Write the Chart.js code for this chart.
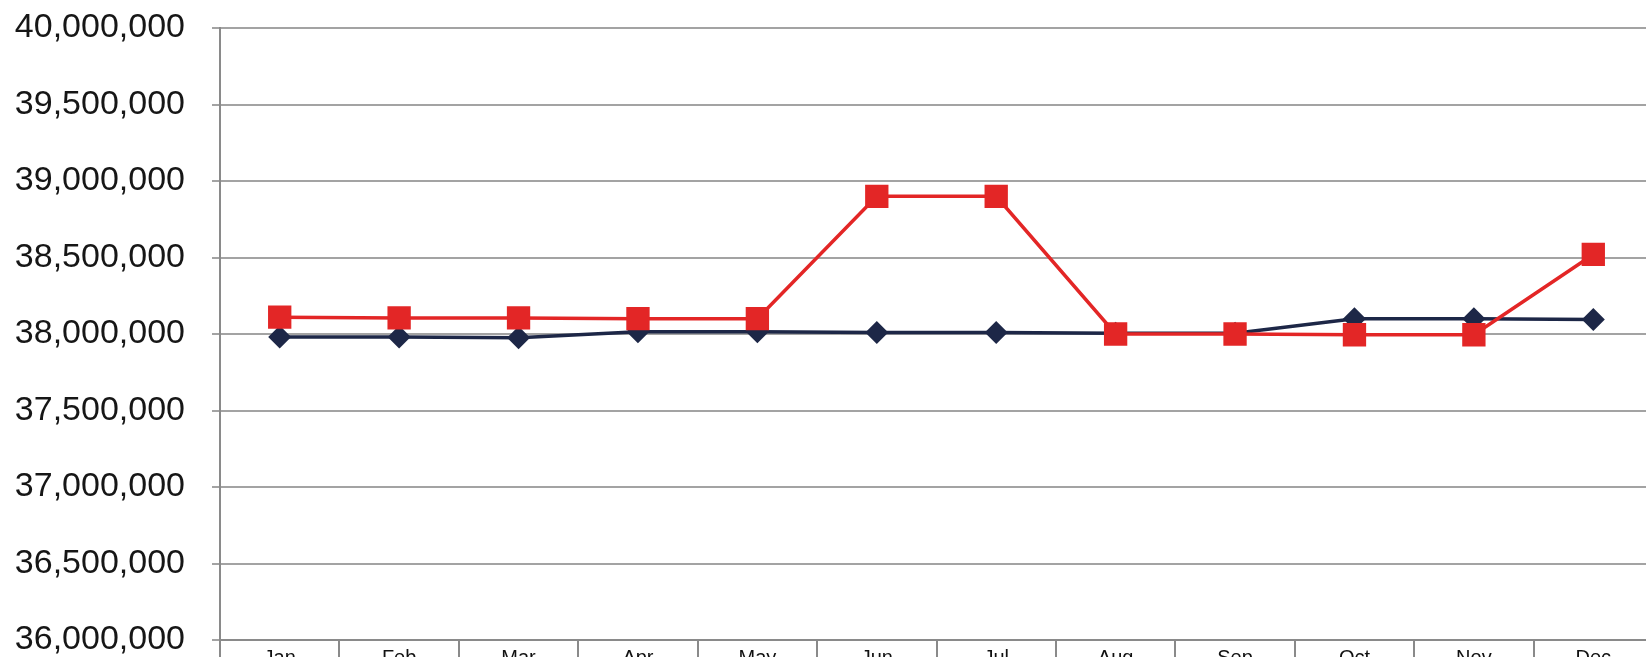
<!DOCTYPE html>
<html>
<head>
<meta charset="utf-8">
<script src="https://cdn.jsdelivr.net/npm/chart.js@4"></script>
<style>
  html, body { margin: 0; padding: 0; background: #fff; overflow: hidden; }
  #wrap { width: 1660px; height: 700px; }
</style>
</head>
<body>
<div id="wrap"><canvas id="myChart" width="1660" height="700"></canvas></div>
<script>
// datos del grafico
const months = ['Jan', 'Feb', 'Mar', 'Apr', 'May', 'Jun', 'Jul', 'Aug', 'Sep', 'Oct', 'Nov', 'Dec'];
const navySeries = [37980000, 37980000, 37975000, 38015000, 38015000, 38010000, 38010000, 38005000, 38005000, 38100000, 38100000, 38095000];
const redSeries = [38110000, 38105000, 38105000, 38100000, 38100000, 38900000, 38900000, 38000000, 38000000, 37995000, 37995000, 38520000];
const yMin = 36000000;
const yMax = 40000000;
const yStep = 500000;

var ctx = document.getElementById('myChart').getContext('2d');

var chartConfig = {
    type: 'line',
    data: {
        labels: months,
        datasets: [{
            data: navySeries,
            borderColor: '#1d2747',
            backgroundColor: '#1d2747',
            borderWidth: 3.5,
            pointStyle: 'rectRot',
            pointRadius: 11.5,
            pointBorderWidth: 0,
            order: 2
        }, {
            data: redSeries,
            borderColor: '#e32626',
            backgroundColor: '#e32626',
            borderWidth: 3.5,
            pointStyle: 'rect',
            pointRadius: 16.5,
            pointBorderWidth: 0,
            order: 1
        }]
    },
    options: {
        responsive: false,
        animation: false,
        layout: { autoPadding: false, padding: { top: 28, right: 7, bottom: 0, left: 0 } },
        plugins: {
            legend: { display: false },
            tooltip: { enabled: false }
        },
        scales: {
            x: {
                offset: true,
                grid: { offset: true, drawOnChartArea: false, tickLength: 25, color: '#8a8a8a', lineWidth: 2 },
                border: { color: '#8a8a8a', width: 2 },
                ticks: { padding: -19, color: '#111', font: { family: 'Liberation Sans, Arial', size: 20 }, maxRotation: 0 },
                afterFit: function(scale) { scale.height = 60; }
            },
            y: {
                min: yMin,
                max: yMax,
                grid: { color: '#a3a3a3', lineWidth: 2, tickLength: 8 },
                border: { color: '#8a8a8a', width: 2 },
                ticks: {
                    stepSize: yStep,
                    padding: 27,
                    color: '#161616',
                    font: { family: 'Liberation Sans, Arial', size: 34 },
                    callback: function(v) { return v.toLocaleString('en-US'); }
                },
                afterFit: function(scale) {
                    scale.width = 220;
                    // el padding de las etiquetas no debe empujar el area del grafico
                    scale.paddingTop = 0;
                    scale.paddingBottom = 0;
                }
            }
        }
    }
};

var myChart = new Chart(ctx, chartConfig);
</script>
</body>
</html>
